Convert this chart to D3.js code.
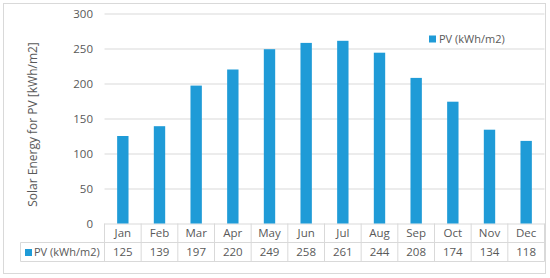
<!DOCTYPE html>
<html>
<head>
<meta charset="utf-8">
<script src="https://cdn.jsdelivr.net/npm/d3@7"></script>
<style>
  body { margin: 0; background: #fff; }
  text { font-family: "Open Sans", sans-serif; fill: #595959; }
</style>
</head>
<body>
<div id="viz"></div>
<script>
// data
const months = ["Jan", "Feb", "Mar", "Apr", "May", "Jun", "Jul", "Aug", "Sep", "Oct", "Nov", "Dec"];
const pvValues = [125, 139, 197, 220, 249, 258, 261, 244, 208, 174, 134, 118];
const yTicks = [0, 50, 100, 150, 200, 250, 300];
const seriesName = "PV (kWh/m2)";
const yTitle = "Solar Energy for PV [kWh/m2]";

const W = 550, H = 278;
const plotL = 104.5, plotR = 544.5, plotT = 13.5, plotB = 223.5;
const rowH = 19;
const barColor = "#1f9bd7", lineColor = "#d9d9d9";

const svg = d3.select("#viz").append("svg")
  .attr("width", W).attr("height", H);

// outer frame
svg.append("rect")
  .attr("x", 3.5).attr("y", 3.5)
  .attr("width", 542).attr("height", 270)
  .attr("fill", "none").attr("stroke", lineColor);

const x = d3.scaleBand().domain(months).range([plotL, plotR]).padding(0);
const y = d3.scaleLinear().domain([0, 300]).range([plotB, plotT]);

// y axis + gridlines
const yAxis = svg.append("g")
  .attr("transform", `translate(${plotL},0)`)
  .call(d3.axisLeft(y).tickValues(yTicks).tickSize(-(plotR - plotL)).tickPadding(11.5));
yAxis.select(".domain").remove();
yAxis.selectAll("line").attr("stroke", lineColor);
yAxis.selectAll("text")
  .style("font-family", "'Open Sans', sans-serif")
  .style("font-size", "11.5px")
  .attr("fill", "#595959");

svg.append("text")
  .attr("transform", `translate(37,${(plotT + plotB) / 2 + 6}) rotate(-90)`)
  .attr("text-anchor", "middle")
  .style("font-size", "12px")
  .text(yTitle);

// bars
const bw = x.bandwidth() * 0.31;
svg.selectAll(".bar")
  .data(pvValues)
  .join("rect")
  .attr("class", "bar")
  .attr("x", (d, i) => x(months[i]) + x.bandwidth() / 2 - bw / 2)
  .attr("y", d => y(d))
  .attr("width", bw)
  .attr("height", d => y(0) - y(d))
  .attr("fill", barColor);

// data table under the chart
const t = svg.append("g").attr("stroke", lineColor).attr("fill", "none");
const row1 = plotB, row2 = plotB + rowH, row3 = plotB + 2 * rowH;
t.append("line").attr("x1", 20.5).attr("x2", plotR).attr("y1", row2).attr("y2", row2);
t.append("line").attr("x1", 20.5).attr("x2", plotR).attr("y1", row3).attr("y2", row3);
t.append("line").attr("x1", 20.5).attr("x2", 20.5).attr("y1", row2).attr("y2", row3);
t.selectAll(".col")
  .data(months.map(m => x(m)).concat([plotR]))
  .join("line")
  .attr("x1", d => d).attr("x2", d => d)
  .attr("y1", row1).attr("y2", row3);

svg.selectAll(".mon")
  .data(months)
  .join("text")
  .attr("x", d => x(d) + x.bandwidth() / 2)
  .attr("y", row1 + rowH / 2)
  .attr("dy", "0.35em")
  .attr("text-anchor", "middle")
  .style("font-size", "11.5px")
  .text(d => d);

svg.selectAll(".val")
  .data(pvValues)
  .join("text")
  .attr("x", (d, i) => x(months[i]) + x.bandwidth() / 2)
  .attr("y", row2 + rowH / 2)
  .attr("dy", "0.35em")
  .attr("text-anchor", "middle")
  .style("font-size", "11.5px")
  .text(d => d);

// legend key in the table
svg.append("rect").attr("x", 25).attr("y", row2 + 6.5).attr("width", 7).attr("height", 7).attr("fill", barColor);
svg.append("text")
  .attr("x", 34).attr("y", row2 + rowH / 2).attr("dy", "0.35em")
  .style("font-size", "11px")
  .text(seriesName);

// legend at top right
svg.append("rect").attr("x", 429).attr("y", 35.5).attr("width", 7).attr("height", 7).attr("fill", barColor);
svg.append("text")
  .attr("x", 439).attr("y", 39).attr("dy", "0.35em")
  .style("font-size", "11px")
  .text(seriesName);
</script>
</body>
</html>
